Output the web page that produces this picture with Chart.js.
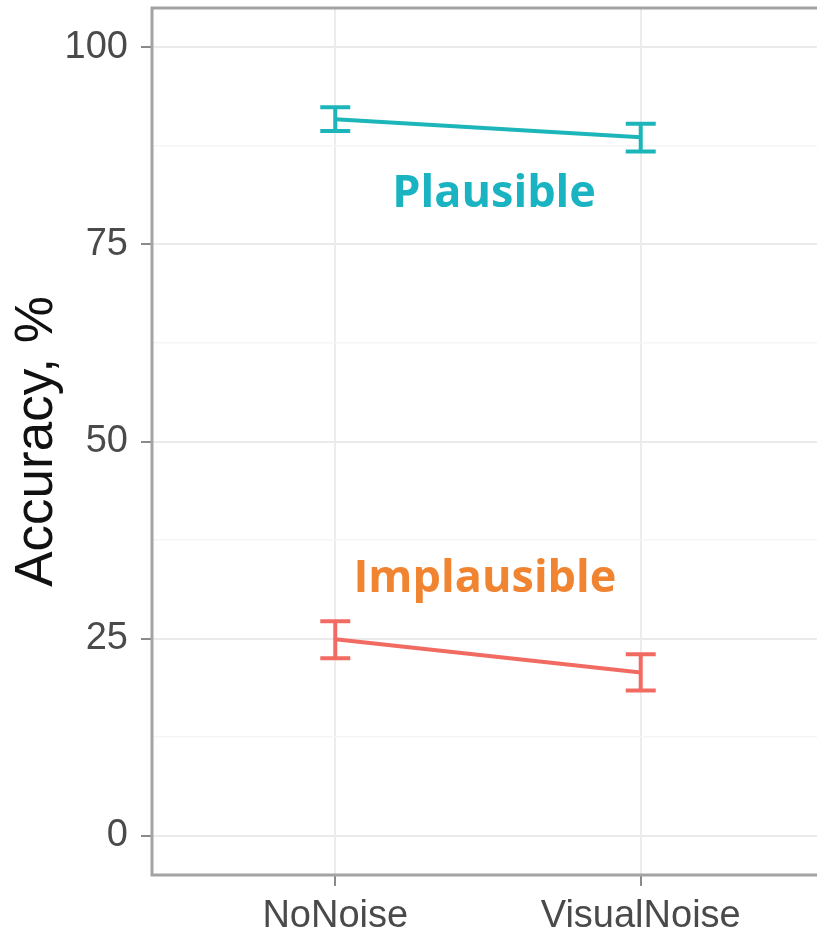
<!DOCTYPE html>
<html>
<head>
<meta charset="utf-8">
<script src="https://cdn.jsdelivr.net/npm/chart.js@4.4.1/dist/chart.umd.min.js"></script>
<style>
  html, body { margin: 0; padding: 0; background: #fff; overflow: hidden; }
  #wrap { width: 824px; height: 935px; }
</style>
</head>
<body>
<div id="wrap"><canvas id="chartAccuracy"></canvas></div>
<script>
// data
var conditions = ["NoNoise", "VisualNoise"]
var plausibleMean = [90.9, 88.6]
var plausibleLow = [89.4, 86.8]
var plausibleHigh = [92.4, 90.3]
var implausibleMean = [24.9, 20.7]
var implausibleLow = [22.5, 18.4]
var implausibleHigh = [27.2, 23.0]
var yTicks = [0, 12.5, 25, 37.5, 50, 62.5, 75, 87.5, 100]

var tealColor = '#1cb5ba'
var redColor = '#f26b62'

// text labels put at data coordinates
var groupLabels = [
  { text: "Plausible", x: 1.52, y: 79.8, color: '#1ab3c2' },
  { text: "Implausible", x: 1.49, y: 30.9, color: '#f08430' }
]

function toPoints(values) {
  return values.map(function(v, i) { return { x: i + 1, y: v } })
}

var errorBars = {
  id: 'errorBars',
  afterDatasetsDraw: function(chart) {
    var ctx = chart.ctx
    var yScale = chart.scales.y
    chart.data.datasets.forEach(function(ds, di) {
      var meta = chart.getDatasetMeta(di)
      ctx.save()
      ctx.strokeStyle = ds.borderColor
      ctx.lineWidth = 4
      meta.data.forEach(function(pt, i) {
        var top = yScale.getPixelForValue(ds.high[i])
        var bottom = yScale.getPixelForValue(ds.low[i])
        ctx.beginPath()
        ctx.moveTo(pt.x, top); ctx.lineTo(pt.x, bottom)
        ctx.moveTo(pt.x - 15, top); ctx.lineTo(pt.x + 15, top)
        ctx.moveTo(pt.x - 15, bottom); ctx.lineTo(pt.x + 15, bottom)
        ctx.stroke()
      })
      ctx.restore()
    })
  }
}

var panelBox = {
  id: 'panelBox',
  beforeDatasetsDraw: function(chart) {
    var a = chart.chartArea
    var ctx = chart.ctx
    ctx.save()
    ctx.strokeStyle = '#a3a3a3'
    ctx.lineWidth = 3
    ctx.strokeRect(a.left, a.top, a.right - a.left, a.bottom - a.top)
    ctx.restore()
  }
}

var groupText = {
  id: 'groupText',
  afterDraw: function(chart) {
    var ctx = chart.ctx
    ctx.save()
    ctx.font = 'bold 45px "Open Sans", sans-serif'
    ctx.textAlign = 'center'
    ctx.textBaseline = 'alphabetic'
    groupLabels.forEach(function(l) {
      ctx.fillStyle = l.color
      ctx.fillText(l.text, chart.scales.x.getPixelForValue(l.x), chart.scales.y.getPixelForValue(l.y))
    })
    ctx.restore()
  }
}

var ctx = document.getElementById('chartAccuracy').getContext('2d')

var chartAccuracy = new Chart(ctx, {
  type: 'line',
  data: {
    datasets: [{
      label: "Plausible",
      data: toPoints(plausibleMean),
      low: plausibleLow,
      high: plausibleHigh,
      borderColor: tealColor,
      borderWidth: 4,
      pointRadius: 0
    }, {
      label: "Implausible",
      data: toPoints(implausibleMean),
      low: implausibleLow,
      high: implausibleHigh,
      borderColor: redColor,
      borderWidth: 4,
      pointRadius: 0
    }]
  },
  options: {
    responsive: true,
    maintainAspectRatio: false,
    animation: false,
    layout: { padding: { left: 0, right: 0, top: 8, bottom: 0 } },
    plugins: { legend: { display: false }, tooltip: { enabled: false } },
    scales: {
      x: {
        type: 'linear',
        min: 0.4,
        max: 2.6,
        afterBuildTicks: function(scale) {
          scale.ticks = conditions.map(function(c, i) { return { value: i + 1 } })
        },
        afterFit: function(scale) {
          scale.height = 60
          scale.paddingLeft = 0
          scale.paddingRight = 0
        },
        border: { display: false },
        grid: { color: '#ececec', lineWidth: 2, tickLength: 11, tickColor: '#8a8a8a', tickWidth: 2 },
        ticks: {
          autoSkip: false,
          maxRotation: 0,
          padding: 8,
          color: '#4a4a4a',
          font: { family: '"Liberation Sans", Arial, sans-serif', size: 38 },
          callback: function(v) { return conditions[v - 1] }
        }
      },
      y: {
        min: -5,
        max: 105,
        afterBuildTicks: function(scale) {
          scale.ticks = yTicks.map(function(v) { return { value: v } })
        },
        afterFit: function(scale) {
          scale.width = 152
          scale.paddingTop = 0
          scale.paddingBottom = 0
        },
        border: { display: false },
        grid: {
          color: function(c) { return c.tick.value % 25 === 0 ? '#ebebeb' : '#f5f5f5' },
          lineWidth: function(c) { return c.tick.value % 25 === 0 ? 2 : 1.5 },
          tickLength: 11,
          tickWidth: 2,
          tickColor: function(c) { return c.tick.value % 25 === 0 ? '#8a8a8a' : 'rgba(0,0,0,0)' }
        },
        ticks: {
          autoSkip: false,
          padding: 13,
          color: '#4a4a4a',
          font: { family: '"Liberation Sans", Arial, sans-serif', size: 38 },
          callback: function(v) { return v % 25 === 0 ? String(v) : '' }
        },
        title: {
          display: true,
          text: "Accuracy, %",
          color: '#111',
          padding: { top: 6, bottom: 0 },
          font: { family: '"Liberation Sans", Arial, sans-serif', size: 53 }
        }
      }
    }
  },
  plugins: [panelBox, errorBars, groupText]
})
</script>
</body>
</html>
